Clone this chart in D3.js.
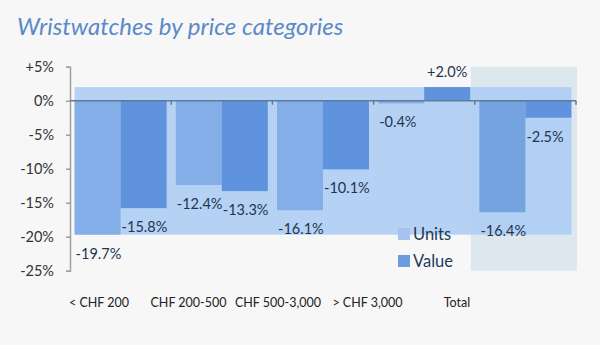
<!DOCTYPE html>
<html><head><meta charset="utf-8">
<script src="https://cdn.jsdelivr.net/npm/d3@7"></script>
<style>
html,body{margin:0;padding:0;background:#f7f7f8;}
svg{display:block;font-family:Lato,"Open Sans",sans-serif;}
</style></head>
<body><svg id="c" width="600" height="345"></svg>
<script>
const categories = ["< CHF 200","CHF 200-500","CHF 500-3,000","> CHF 3,000","Total"];
const series = ["Units","Value"];
const units = [-19.7,-12.4,-16.1,-0.4,-16.4];
const value = [-15.8,-13.3,-10.1,2.0,-2.5];
const yTicks = [5,0,-5,-10,-15,-20,-25];
const title = "Wristwatches by price categories";

const svg = d3.select("#c");
const y = d3.scaleLinear().domain([-25,5]).range([270.7,66.7]);
const x0 = d3.scaleBand().domain(categories).range([70,576]).padding(0);
const x1 = d3.scaleBand().domain(series).range([0,x0.bandwidth()]).paddingInner(0).paddingOuter(0.1);
const xl = d3.scalePoint().domain(categories).range([99,457]);
const colors = {Units:"#84aee8", Value:"#6093dd"};

const rows = categories.map((c,i)=>({cat:c, vals:[{s:"Units",v:units[i]},{s:"Value",v:value[i]}]}));
const all = units.concat(value);
const ext = d3.extent(all);

// title
svg.append("text").attr("x",17).attr("y",35).attr("font-size",24).attr("font-style","italic")
  .attr("fill","#5b8ac6").text(title);

// total highlight band
svg.append("rect").attr("x",x0("Total")-4).attr("y",y(5)).attr("width",x0.bandwidth()+5)
  .attr("height",y(-25)-y(5)).attr("fill","#dde7ee");

// background rect spanning data extent
svg.append("rect").attr("x",x0(categories[0])+x1("Units"))
  .attr("width",x0(categories[4])+x1("Value")+x1.bandwidth()-(x0(categories[0])+x1("Units")))
  .attr("y",y(ext[1])).attr("height",y(ext[0])-y(ext[1]))
  .attr("fill","#a9cbf5").attr("opacity",0.85);

// bars
const g = svg.append("g");
rows.forEach(r=>{
  g.selectAll(null).data(r.vals).enter().append("rect")
    .attr("x",d=>x0(r.cat)+x1(d.s)).attr("width",x1.bandwidth())
    .attr("y",d=>y(Math.max(0,d.v))).attr("height",d=>Math.abs(y(d.v)-y(0)))
    .attr("fill",d=>r.cat==="Total"&&d.s==="Units"?"#74a3e0":colors[d.s]);
});

// y axis
const ya = svg.append("g").attr("transform","translate(70,0)")
  .call(d3.axisLeft(y).tickValues(yTicks).tickSize(4).tickPadding(12)
    .tickFormat(d=>(d>0?"+":"")+d+"%"));
ya.select(".domain").attr("stroke","#a0a0a0").attr("stroke-width",1.5);
ya.selectAll(".tick line").attr("stroke","#a0a0a0").attr("stroke-width",1.5);
ya.selectAll("text").attr("font-size",14.5).attr("fill","#333").attr("font-family","Lato,sans-serif");

// zero line with ticks
svg.append("line").attr("x1",70).attr("x2",576).attr("y1",y(0)).attr("y2",y(0))
  .attr("stroke","#5f7b98").attr("stroke-width",1.5);
svg.selectAll(null).data(categories).enter().append("line")
  .attr("x1",d=>x0(d)+x0.bandwidth()).attr("x2",d=>x0(d)+x0.bandwidth())
  .attr("y1",y(0)).attr("y2",y(0)+4).attr("stroke","#5f7b98").attr("stroke-width",1.5);

// value labels
rows.forEach(r=>{
  g.selectAll(null).data(r.vals).enter().append("text")
    .attr("x",d=>d.v>=0? x0(r.cat)+x1(d.s)+x1.bandwidth()/2 : x0(r.cat)+x1(d.s)+1)
    .attr("y",d=>d.v>=0? y(d.v)-10 : y(d.v)+24)
    .attr("text-anchor",d=>d.v>=0?"middle":"start")
    .attr("font-size",14.5).attr("fill","#1f3550")
    .text(d=>(d.v>0?"+":"")+d.v.toFixed(1)+"%");
});

// x labels
svg.selectAll(null).data(categories).enter().append("text")
  .attr("x",d=>xl(d)).attr("y",307).attr("text-anchor","middle")
  .attr("font-size",12.5).attr("fill","#222").text(d=>d);

// legend
const leg = svg.append("g");
const legColors = {Units:"#a6c4ef", Value:"#6b9be0"};
series.forEach((s,i)=>{
  leg.append("rect").attr("x",398).attr("y",228+i*27).attr("width",12).attr("height",12).attr("fill",legColors[s]);
  leg.append("text").attr("x",413).attr("y",240+i*27).attr("font-size",16.5).attr("fill","#223a5a").text(s);
});
</script></body></html>
